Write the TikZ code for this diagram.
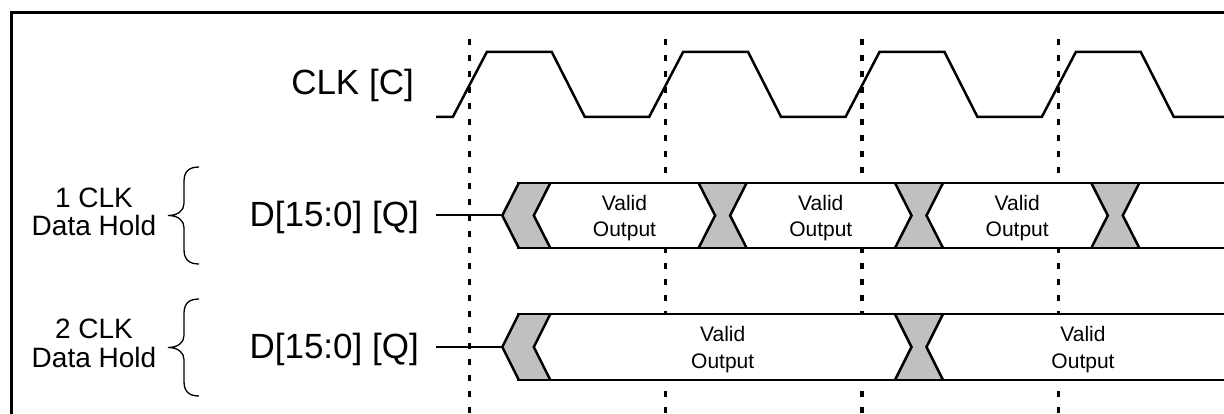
\documentclass[tikz,border=0pt]{standalone}
\usepackage{fontspec}
\setmainfont{Liberation Sans}
\definecolor{busgray}{RGB}{192,192,192}
\begin{document}
\begin{tikzpicture}[x=1pt,y=-1pt,
  frameline/.style={line width=3pt},
  wave/.style={line width=2.5pt, line join=miter},
  busline/.style={line width=2.5pt, line cap=butt},
  stub/.style={line width=2pt},
  tick/.style={line width=3.2pt, dash pattern=on 6pt off 10pt},
  grayx/.style={fill=busgray},
  bigl/.style={font=\fontsize{35}{42}\selectfont, inner sep=0pt, anchor=base east},
  sidel/.style={font=\fontsize{28}{28.4}\selectfont, inner sep=0pt, align=center},
  vout/.style={font=\fontsize{21}{26.7}\selectfont, inner sep=0pt, align=center},
  bracel/.style={line width=1.3pt}]
\useasboundingbox (0,0) rectangle (1224,414);
% frame
\draw[frameline] (11,414) -- (11,13) -- (1224,13);
% clock ticks
\foreach \t in {469.3,665.6,862,1058.3}
  \draw[tick] (\t,39.3) -- (\t,414);
% clock waveform
\draw[wave] (436,117) -- (452.8,117) -- (486.8,52) -- (551.8,52) -- (584.8,117)
  -- (649.1,117) -- (683.1,52) -- (748.1,52) -- (781.1,117)
  -- (845.5,117) -- (879.5,52) -- (944.5,52) -- (977.5,117)
  -- (1041.8,117) -- (1075.8,52) -- (1140.8,52) -- (1173.8,117) -- (1224,117);
% buses
\foreach \top/\bot/\dy/\xs in {183/248/0/{722.6,919,1115.3}, 314/380/131.5/{919}}{
  \pgfmathsetmacro{\mid}{(\top+\bot)/2}
  \fill[white] (518.8,\top) -- (1224,\top) -- (1224,\bot) -- (518.8,\bot) -- (502.3,\mid) -- cycle;
  \fill[grayx] (518.8,\top) -- (550.3,\top) -- (533.8,\mid) -- (550.3,\bot) -- (518.8,\bot) -- (502.3,\mid) -- cycle;
  \draw[busline] (518.8,\top) -- (502.3,\mid) -- (518.8,\bot);
  \draw[busline] (550.3,\top) -- (533.8,\mid) -- (550.3,\bot);
  \foreach \c in \xs {
    \fill[grayx] (\c-24,\top) -- (\c+24,\top) -- (\c+7.5,\mid) -- (\c+24,\bot) -- (\c-24,\bot) -- (\c-7.5,\mid) -- cycle;
    \draw[busline] (\c-24,\top) -- (\c-7.5,\mid) -- (\c-24,\bot);
    \draw[busline] (\c+24,\top) -- (\c+7.5,\mid) -- (\c+24,\bot);
  }
  \draw[busline] (517,\top) -- (1224,\top);
  \draw[busline] (517,\bot) -- (1224,\bot);
}
% labels
\node[bigl] (clk) at (414,95) {CLK [C]};
\node[bigl] (dq1) at (419,226.7) {D[15:0] [Q]};
\node[bigl] (dq2) at (419,358.2) {D[15:0] [Q]};
\coordinate (s1) at (436,215.5);
\coordinate (b1) at (502.3,215.5);
\coordinate (s2) at (436,347);
\coordinate (b2) at (502.3,347);
\draw[stub] (s1) -- (b1);
\draw[stub] (s2) -- (b2);
\node[sidel] (h1) at (94,211.7) {1 CLK\\Data Hold};
\node[sidel] (h2) at (94,343.2) {2 CLK\\Data Hold};
% braces
\foreach \m in {215.5,347.5}{
  \draw[bracel] (199,\m-48.5) .. controls (189,\m-48.5) and (184,\m-44) .. (184,\m-34)
    -- (184,\m-12) .. controls (184,\m-5) and (178,\m) .. (168,\m)
    .. controls (178,\m) and (184,\m+5) .. (184,\m+12)
    -- (184,\m+34) .. controls (184,\m+44) and (189,\m+48.5) .. (199,\m+48.5);
}
% valid output texts
\node[vout] (v1) at (624.5,218) {Valid\\Output};
\node[vout] (v2) at (820.8,218) {Valid\\Output};
\node[vout] (v3) at (1017.2,218) {Valid\\Output};
\node[vout] (v4) at (722.7,349.5) {Valid\\Output};
\node[vout] (v5) at (1083,349.5) {Valid\\Output};
\end{tikzpicture}
\end{document}
